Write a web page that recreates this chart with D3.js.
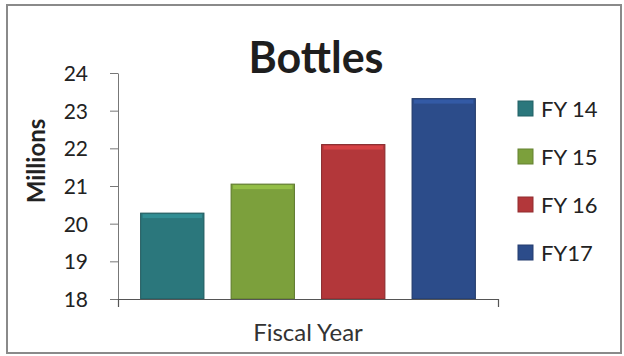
<!DOCTYPE html>
<html><head><meta charset="utf-8">
<script src="https://cdn.jsdelivr.net/npm/d3@7/dist/d3.min.js"></script>
<style>body{margin:0;background:#fff}svg{display:block}</style>
</head><body>
<svg id="c" width="624" height="356"></svg>
<script>
const title = "Bottles";
const series = ["FY 14", "FY 15", "FY 16", "FY17"];
const values = [20.28, 21.05, 22.1, 23.32];
const colors = ["#2b777c", "#7ca03c", "#b3373a", "#2c4c8a"];
const yTicks = [18, 19, 20, 21, 22, 23, 24];
const yTitle = "Millions";
const xTitle = "Fiscal Year";

const svg = d3.select("#c");
const F = "Lato, 'Open Sans', sans-serif";
const L = 118, R = 498, T = 73, B = 299;

// border
svg.append("rect").attr("x", 7).attr("y", 5).attr("width", 614).attr("height", 348)
  .attr("fill", "none").attr("stroke", "#8a8a8a").attr("stroke-width", 2);

const y = d3.scaleLinear().domain([18, 24]).range([B, T]);
const x = d3.scaleBand().domain(series).range([L, R]).paddingInner(0.3).paddingOuter(0.25);

// bars
const g = svg.append("g");
series.forEach((s, i) => {
  const c = d3.color(colors[i]);
  g.append("rect").attr("x", x(s)).attr("y", y(values[i]))
    .attr("width", x.bandwidth()).attr("height", y(18) - y(values[i]))
    .attr("fill", colors[i]).attr("stroke", c.darker(0.8)).attr("stroke-width", 1);
  g.append("rect").attr("x", x(s) + 2).attr("y", y(values[i]) + 1)
    .attr("width", x.bandwidth() - 4).attr("height", 4)
    .attr("fill", c.brighter(0.6)).attr("opacity", 0.8);
});

// y axis
const ya = svg.append("g").attr("transform", `translate(${L},0)`)
  .call(d3.axisLeft(y).tickValues(yTicks).tickSize(8).tickSizeOuter(0).tickPadding(22).tickFormat(d3.format("d")));
ya.selectAll("path,line").attr("stroke", "#777");
ya.selectAll("text").attr("font-family", F).attr("font-size", 21).attr("fill", "#222").attr("dy", "0.36em");

// x axis
const xl = d3.scaleLinear().domain([0, 1]).range([L, R]);
const xa = svg.append("g").attr("transform", `translate(0,${B})`)
  .call(d3.axisBottom(xl).tickValues([]).tickSizeOuter(8));
xa.selectAll("path").attr("stroke", "#555").attr("stroke-width", 1.2);

// titles
svg.append("text").attr("x", 316).attr("y", 73).attr("text-anchor", "middle")
  .attr("font-family", F).attr("font-weight", "bold").attr("font-size", 43).attr("fill", "#1e1e1e").text(title);
svg.append("text").attr("transform", "translate(45,161) rotate(-90)").attr("text-anchor", "middle")
  .attr("font-family", F).attr("font-weight", "bold").attr("font-size", 24).attr("fill", "#222").text(yTitle);
svg.append("text").attr("x", 308).attr("y", 341).attr("text-anchor", "middle")
  .attr("font-family", F).attr("font-size", 24).attr("fill", "#333").text(xTitle);

// legend
const lg = svg.append("g");
series.forEach((s, i) => {
  const cy = 109 + i * 48;
  lg.append("rect").attr("x", 518).attr("y", cy - 8).attr("width", 15).attr("height", 15)
    .attr("fill", colors[i]).attr("stroke", d3.color(colors[i]).darker(0.6));
  lg.append("text").attr("x", 541).attr("y", cy).attr("dy", "0.36em")
    .attr("font-family", F).attr("font-size", 22).attr("fill", "#222").text(s);
});
</script>
</body></html>
